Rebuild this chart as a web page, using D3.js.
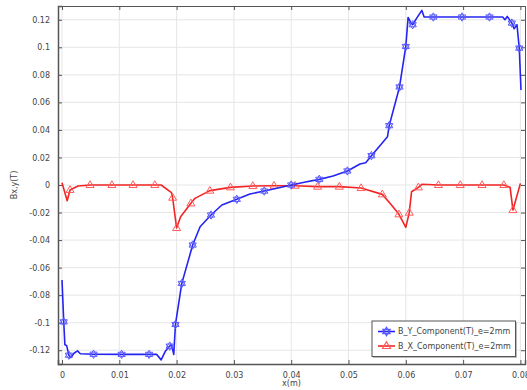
<!DOCTYPE html>
<html><head><meta charset="utf-8">
<script src="https://cdn.jsdelivr.net/npm/d3@7"></script>
<style>html,body{margin:0;padding:0;background:#fff;}svg{display:block;}</style>
</head><body>
<script>
// ---- data ----
const byX = [0.0000,0.0003,0.0005,0.0008,0.0012,0.0015,0.0021,0.0027,0.0032,0.0055,0.0104,0.0152,0.0165,0.0173,0.0180,0.0188,0.0191,0.0195,0.0198,0.0209,0.0216,0.0228,0.0241,0.0260,0.0279,0.0305,0.0328,0.0353,0.0375,0.0400,0.0425,0.0449,0.0473,0.0498,0.0520,0.0530,0.0540,0.0568,0.0571,0.0589,0.0600,0.0604,0.0609,0.0612,0.0619,0.0628,0.0632,0.0648,0.0698,0.0746,0.0769,0.0773,0.0777,0.0785,0.0789,0.0794,0.0798,0.0801];
const byY = [-0.069,-0.0994,-0.116,-0.1165,-0.1236,-0.1254,-0.1222,-0.1205,-0.1226,-0.1229,-0.123,-0.123,-0.123,-0.127,-0.121,-0.117,-0.116,-0.123,-0.1013,-0.0715,-0.0613,-0.0436,-0.0303,-0.0218,-0.0145,-0.0104,-0.0065,-0.0044,-0.0024,0.0000,0.0022,0.0041,0.0065,0.0102,0.0153,0.0162,0.0213,0.0351,0.0431,0.0712,0.1006,0.1217,0.1176,0.1164,0.1212,0.1268,0.122,0.122,0.122,0.122,0.122,0.120,0.1224,0.1176,0.1135,0.1164,0.0994,0.069];
const byMarkers = [1,4,9,10,11,15,18,19,21,23,25,27,29,31,33,36,38,39,40,43,47,48,49,53,56];

const bxX = [0.0000,0.0009,0.0014,0.0028,0.0049,0.0087,0.0124,0.0162,0.0173,0.0191,0.0193,0.0200,0.0207,0.0225,0.0232,0.0258,0.0294,0.0333,0.0370,0.0407,0.0446,0.0484,0.0522,0.0559,0.0575,0.0588,0.0600,0.0606,0.0610,0.0622,0.0628,0.0657,0.0695,0.0733,0.0771,0.0782,0.0787,0.0800];
const bxY = [0.0017,-0.0114,-0.0036,-0.0007,0,0,0,0,0,-0.0055,-0.0092,-0.0312,-0.023,-0.0133,-0.0097,-0.0041,-0.0017,-0.0007,-0.0005,-0.0005,-0.0012,-0.0012,-0.0022,-0.0068,-0.0145,-0.0213,-0.0308,-0.0201,-0.0049,-0.0017,0.0005,0,0,0,0,-0.0017,-0.0182,0.0012];
const bxMarkers = [2,4,5,6,7,10,11,13,15,16,17,18,19,20,21,22,23,25,27,29,31,32,33,34,36];

const xTicks = [0,0.01,0.02,0.03,0.04,0.05,0.06,0.07,0.08];
const xTickLabels = ["0","0.01","0.02","0.03","0.04","0.05","0.06","0.07","0.08"];
const yTicks = [0.12,0.1,0.08,0.06,0.04,0.02,0,-0.02,-0.04,-0.06,-0.08,-0.1,-0.12];
const yTickLabels = ["0.12","0.1","0.08","0.06","0.04","0.02","0","-0.02","-0.04","-0.06","-0.08","-0.1","-0.12"];
const seriesNames = ["B_Y_Component(T)_e=2mm","B_X_Component(T)_e=2mm"];
const xLabel = "x(m)";
const yLabel = "Bx,y(T)";

// ---- layout ----
const W = 527, H = 390;
const L = 58, R = 525, T = 6, B = 364;
const font = "DejaVu Sans";
const txtCol = "#444";
const blue = "#2424f2", red = "#f22424";
const blueM = "#5a5aff", redM = "#ff5a5a";

const svg = d3.select("body").append("svg").attr("width", W).attr("height", H);
const x = d3.scaleLinear().domain([-0.0007, 0.0808]).range([L, R]);
const y = d3.scaleLinear().domain([-0.13, 0.13]).range([B, T]);

// grid
const g = svg.append("g");
g.selectAll(".gx").data(xTicks).enter().append("line")
  .attr("x1", d => x(d)).attr("x2", d => x(d)).attr("y1", T).attr("y2", B)
  .attr("stroke", "#e6e6e6").attr("stroke-width", 1);
g.selectAll(".gy").data(yTicks).enter().append("line")
  .attr("y1", d => y(d)).attr("y2", d => y(d)).attr("x1", L).attr("x2", R)
  .attr("stroke", "#e6e6e6").attr("stroke-width", 1);

// axes using d3 axis generators (inward ticks)
const axB = d3.axisBottom(x).tickValues(xTicks).tickSize(-4).tickPadding(8).tickFormat((d,i) => xTickLabels[i]);
const axT = d3.axisTop(x).tickValues(xTicks).tickSize(-4).tickFormat("");
const axL = d3.axisLeft(y).tickValues(yTicks).tickSize(-4).tickPadding(8).tickFormat((d,i) => yTickLabels[i]);
const axR = d3.axisRight(y).tickValues(yTicks).tickSize(-4).tickFormat("");

function styleAx(sel, w) {
  sel.select(".domain").attr("stroke", "#555").attr("stroke-width", w);
  sel.selectAll(".tick line").attr("stroke", "#555");
  sel.selectAll(".tick text").attr("fill", txtCol).style("font-family", font).style("font-size", "8px");
}
styleAx(svg.append("g").attr("transform", `translate(0,${B})`).call(axB), 1.5);
styleAx(svg.append("g").attr("transform", `translate(0,${T})`).call(axT), 1);
styleAx(svg.append("g").attr("transform", `translate(${L},0)`).call(axL), 1.5);
styleAx(svg.append("g").attr("transform", `translate(${R},0)`).call(axR), 1);

// labels
svg.append("text").attr("x", (L + R) / 2).attr("y", 386).attr("text-anchor", "middle")
  .style("font-family", font).style("font-size", "8px").attr("fill", txtCol).text(xLabel);
svg.append("text").attr("transform", `translate(17,${(T + B) / 2}) rotate(-90)`).attr("text-anchor", "middle")
  .style("font-family", font).style("font-size", "8px").attr("fill", txtCol).text(yLabel);

// symbols
function hexagram(cx, cy, r) {
  const p = (a) => [cx + r * Math.sin(a), cy - r * Math.cos(a)];
  const t1 = [0, 2 * Math.PI / 3, 4 * Math.PI / 3].map(p);
  const t2 = [Math.PI / 3, Math.PI, 5 * Math.PI / 3].map(p);
  return "M" + t1.join("L") + "Z M" + t2.join("L") + "Z";
}
function triangle(cx, cy, r) {
  return `M${cx},${cy - r}L${cx + r * 0.95},${cy + r * 0.6}L${cx - r * 0.95},${cy + r * 0.6}Z`;
}

const line = d3.line().x(d => x(d[0])).y(d => y(d[1]));
const plot = svg.append("g");
const byData = byX.map((v, i) => [v, byY[i]]);
const bxData = bxX.map((v, i) => [v, bxY[i]]);

plot.append("path").datum(bxData).attr("d", line).attr("fill", "none").attr("stroke", red).attr("stroke-width", 1.6).attr("stroke-linejoin", "round");
plot.selectAll(".mx").data(bxMarkers).enter().append("path")
  .attr("d", i => triangle(x(bxX[i]), y(bxY[i]), 4.2)).attr("fill", "none").attr("stroke", redM).attr("stroke-width", 1);

plot.append("path").datum(byData).attr("d", line).attr("fill", "none").attr("stroke", blue).attr("stroke-width", 1.6).attr("stroke-linejoin", "round");
plot.selectAll(".my").data(byMarkers).enter().append("path")
  .attr("d", i => hexagram(x(byX[i]), y(byY[i]), 4.2)).attr("fill", "none").attr("stroke", blueM).attr("stroke-width", 1);

// legend
const lg = svg.append("g");
lg.append("rect").attr("x", 373).attr("y", 322).attr("width", 144).attr("height", 36).attr("fill", "#bbb");
lg.append("rect").attr("x", 372).attr("y", 321).attr("width", 143.5).attr("height", 35.5).attr("fill", "#fff").attr("stroke", "#555").attr("stroke-width", 1);
const ly = [331.5, 346];
const lcols = [blue, red], mcols = [blueM, redM];
seriesNames.forEach((s, i) => {
  lg.append("line").attr("x1", 378).attr("x2", 395).attr("y1", ly[i]).attr("y2", ly[i]).attr("stroke", lcols[i]).attr("stroke-width", 1.6);
  lg.append("path").attr("d", i === 0 ? hexagram(386.5, ly[i], 4.2) : triangle(386.5, ly[i], 4.2))
    .attr("fill", "none").attr("stroke", mcols[i]).attr("stroke-width", 1.2);
  lg.append("text").attr("x", 398).attr("y", ly[i]).attr("dy", "0.35em")
    .style("font-family", font).style("font-size", "8px").attr("fill", txtCol).text(s);
});
</script>
</body></html>
